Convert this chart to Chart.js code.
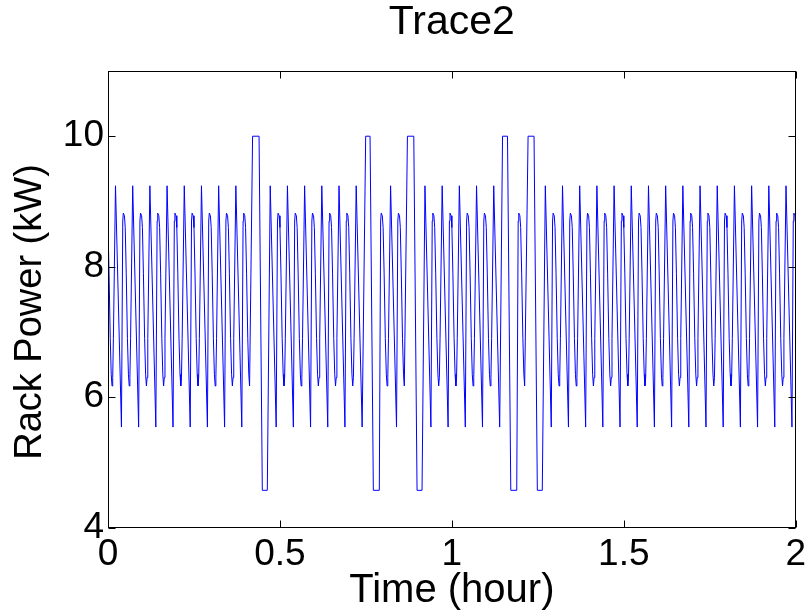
<!DOCTYPE html>
<html>
<head>
<meta charset="utf-8">
<script src="https://cdn.jsdelivr.net/npm/chart.js@4.4.1/dist/chart.umd.min.js"></script>
<style>
    html, body { margin: 0; padding: 0; background: #fff; }
    #wrap { width: 811px; height: 613px; }
</style>
</head>
<body>
<div id="wrap"><canvas id="traceChart" width="811" height="613"></canvas></div>
<script>
// One normal 3 minute cycle: offsets (hour) from its sharp peak, and the power there (kW)
const cycleOffsets = [0, 0.0173, 0.0211, 0.0228, 0.0260, 0.0283, 0.0312, 0.0347, 0.0376, 0.0399, 0.0419, 0.0439];
const cycleValues  = [9.24, 5.54, 8.70, 8.82, 8.78, 8.60, 7.90, 6.90, 6.35, 6.17, 6.30, 6.90];

// time (hour) of the sharp peak of each cycle
const peakTimes = [
    -0.0282, 0.0218, 0.0718, 0.1218, 0.1718, 0.2218, 0.2718, 0.3218, 0.3718, 0.4218,
    0.4718, 0.5218, 0.5718, 0.6218, 0.6718, 0.7218, 0.7718, 0.8218, 0.8718, 0.9218,
    0.9718, 1.0218, 1.0718, 1.1218, 1.1718, 1.2218, 1.2718, 1.3218, 1.3718, 1.4218,
    1.4718, 1.5218, 1.5718, 1.6218, 1.6718, 1.7218, 1.7718, 1.8218, 1.8718, 1.9218,
    1.9718
];

// the five square pulses (10 kW high, 4.57 kW low) that replace the normal shape
const burstTimes = [
    [0.4117, 0.4205, 0.4393, 0.4488, 0.4633, 0.4718],
    [0.7391, 0.7494, 0.7621, 0.7717, 0.7890, 0.7929],
    [0.8617, 0.8708, 0.8893, 0.8988, 0.9133, 0.9218],
    [1.1391, 1.1474, 1.1618, 1.1714, 1.1887, 1.1929],
    [1.2117, 1.2217, 1.2390, 1.2486, 1.2630, 1.2718]
];
const burstValues = [
    [6.17, 10, 10, 4.57, 4.57, 9.24],
    [5.54, 10, 10, 4.57, 4.57, 8.70],
    [6.17, 10, 10, 4.57, 4.57, 9.24],
    [5.54, 10, 10, 4.57, 4.57, 8.70],
    [6.17, 10, 10, 4.57, 4.57, 9.24]
];

const xTicks = [0, 0.5, 1, 1.5, 2];
const xTickLabels = ['0', '0.5', '1', '1.5', '2'];
const yTicks = [4, 6, 8, 10];
const yTickLabels = ['4', '6', '8', '10'];

const FONT = 'Liberation Sans, Arial, Helvetica, sans-serif';

function buildTrace() {
    let pts = [];
    peakTimes.forEach(p => {
        cycleOffsets.forEach((o, i) => {
            pts.push({ x: +(p + o).toFixed(4), y: cycleValues[i] });
        });
    });
    burstTimes.forEach((ts, b) => {
        const start = ts[0];
        const end = ts[ts.length - 1];
        pts = pts.filter(pt => pt.x < start - 1e-4 || pt.x > end + 1e-4);
        ts.forEach((t, i) => pts.push({ x: t, y: burstValues[b][i] }));
    });
    pts.sort((a, b) => a.x - b.x);
    return pts;
}

// MATLAB style box with inward ticks on all four sides, plus the y label
const boxPlugin = {
    id: 'matlabBox',
    afterDraw(chart) {
        const { ctx, chartArea } = chart;
        const xs = chart.scales.x;
        const ys = chart.scales.y;
        const left = Math.round(chartArea.left) + 0.5;
        const right = Math.round(chartArea.right) - 0.5;
        const top = Math.round(chartArea.top) + 0.5;
        const bottom = Math.round(chartArea.bottom) - 0.5;
        const tl = 7;
        ctx.save();
        ctx.strokeStyle = '#000';
        ctx.lineWidth = 1;
        ctx.beginPath();
        xTicks.forEach(v => {
            const px = Math.round(xs.getPixelForValue(v)) + 0.5;
            ctx.moveTo(px, bottom); ctx.lineTo(px, bottom - tl);
            ctx.moveTo(px, top); ctx.lineTo(px, top + tl);
        });
        yTicks.forEach(v => {
            const py = Math.round(ys.getPixelForValue(v)) + 0.5;
            ctx.moveTo(left, py); ctx.lineTo(left + tl, py);
            ctx.moveTo(right, py); ctx.lineTo(right - tl, py);
        });
        ctx.stroke();
        ctx.strokeRect(left, top, right - left, bottom - top);

        // y axis label
        ctx.translate(31, 312);
        ctx.rotate(-Math.PI / 2);
        ctx.fillStyle = '#000';
        ctx.font = '38px ' + FONT;
        ctx.textAlign = 'center';
        ctx.textBaseline = 'middle';
        ctx.fillText('Rack Power (kW)', 0, 0);
        ctx.restore();
    }
};

const chartCtx = document.getElementById('traceChart');
const traceChart = new Chart(chartCtx, {
    type: 'line',
    data: {
        datasets: [{
            data: buildTrace(),
            borderColor: '#0000ff',
            borderWidth: 1,
            pointRadius: 0,
            tension: 0,
            fill: false
        }]
    },
    options: {
        responsive: false,
        animation: false,
        devicePixelRatio: 1,
        layout: { padding: { top: 0, right: 11, bottom: 0, left: 0 } },
        plugins: {
            legend: { display: false },
            tooltip: { enabled: false },
            title: {
                display: true,
                fullSize: false,
                text: 'Trace2',
                color: '#000',
                font: { family: FONT, size: 41, weight: 'normal', lineHeight: 1 },
                padding: { top: 2, bottom: 28 }
            }
        },
        scales: {
            x: {
                type: 'linear',
                min: 0,
                max: 2,
                afterBuildTicks: s => { s.ticks = xTicks.map(v => ({ value: v })); },
                afterFit: s => { s.height = 85.5; },
                grid: { display: false, drawTicks: false },
                border: { display: false },
                ticks: {
                    color: '#000',
                    font: { family: FONT, size: 37 },
                    padding: 5,
                    maxRotation: 0,
                    autoSkip: false,
                    callback: v => xTickLabels[xTicks.indexOf(v)]
                },
                title: {
                    display: true,
                    text: 'Time (hour)',
                    color: '#000',
                    font: { family: FONT, size: 40 },
                    padding: { top: 0, bottom: -2 }
                }
            },
            y: {
                min: 4,
                max: 11,
                afterBuildTicks: s => { s.ticks = yTicks.map(v => ({ value: v })); },
                afterFit: s => { s.width = 108; },
                grid: { display: false, drawTicks: false },
                border: { display: false },
                ticks: {
                    color: '#000',
                    font: { family: FONT, size: 37 },
                    padding: 4,
                    autoSkip: false,
                    callback: v => yTickLabels[yTicks.indexOf(v)]
                }
            }
        }
    },
    plugins: [boxPlugin]
});
</script>
</body>
</html>
